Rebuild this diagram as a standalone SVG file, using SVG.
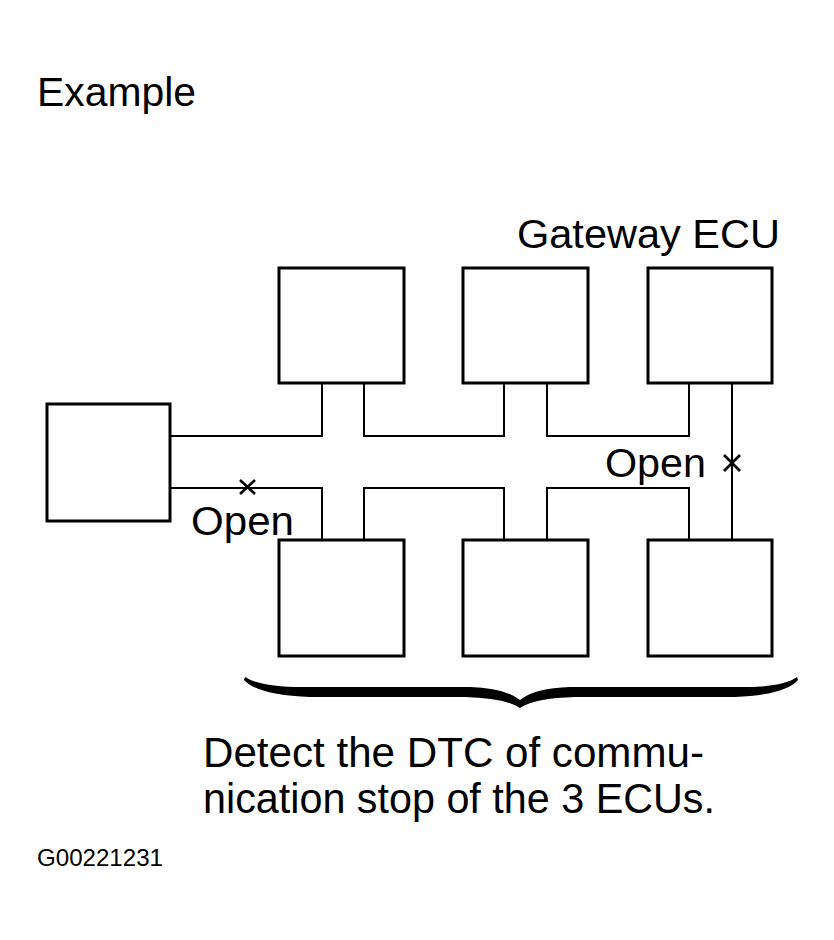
<svg xmlns="http://www.w3.org/2000/svg" width="834" height="940" viewBox="0 0 834 940">
<style>
.box{fill:#fff;stroke:#000;stroke-width:3}
.wire{fill:none;stroke:#000;stroke-width:2}
.x{fill:none;stroke:#000;stroke-width:2.6}
.t{font-family:"Liberation Sans",Arial,sans-serif;fill:#000}
</style>
<rect width="834" height="940" fill="#fff"/>
<text class="t" x="37" y="106" font-size="40" textLength="159" lengthAdjust="spacingAndGlyphs">Example</text>
<text class="t" x="517" y="248" font-size="41" textLength="263" lengthAdjust="spacingAndGlyphs">Gateway ECU</text>
<g id="connectors">
<path class="wire" d="M171,436 H322 V383 M364,383 V436 H504 V383 M547,383 V436 H689 V383"/>
<path class="wire" d="M171,488 H322 V540 M364,540 V488 H504 V540 M547,540 V488 H689 V540"/>
<path class="wire" d="M732,383 V540"/>
<path class="x" d="M240,480 L255,494 M255,480 L240,494"/>
<path class="x" d="M724,455 L740,471 M740,455 L724,471"/>
</g>
<g id="ecu-left"><rect class="box" x="47" y="404" width="123" height="117"/></g>
<g id="ecu-top1"><rect class="box" x="279" y="268" width="125" height="115"/></g>
<g id="ecu-top2"><rect class="box" x="463" y="268" width="125" height="115"/></g>
<g id="ecu-gateway"><rect class="box" x="648" y="268" width="124" height="115"/></g>
<g id="ecu-bot1"><rect class="box" x="279" y="540" width="125" height="116"/></g>
<g id="ecu-bot2"><rect class="box" x="463" y="540" width="125" height="116"/></g>
<g id="ecu-bot3"><rect class="box" x="648" y="540" width="124" height="116"/></g>
<text class="t" x="191" y="535" font-size="41" textLength="103" lengthAdjust="spacingAndGlyphs">Open</text>
<text class="t" x="605" y="477" font-size="41" textLength="101" lengthAdjust="spacingAndGlyphs">Open</text>
<path id="brace" fill="#000" d="M245,677 Q262,688 310,687 L470,687 Q505,688 520,700 Q535,688 570,687 L735,687 Q782,688 797,677 L798,680 Q785,695 735,697 L575,697 Q535,698 520,708 Q505,698 465,697 L310,697 Q258,695 244,680 Z"/>
<text class="t" x="203" y="767" font-size="42" textLength="501" lengthAdjust="spacingAndGlyphs">Detect the DTC of commu-</text>
<text class="t" x="203" y="813" font-size="42" textLength="512" lengthAdjust="spacingAndGlyphs">nication stop of the 3 ECUs.</text>
<text class="t" x="37" y="866" font-size="24" textLength="126" lengthAdjust="spacingAndGlyphs">G00221231</text>
</svg>
